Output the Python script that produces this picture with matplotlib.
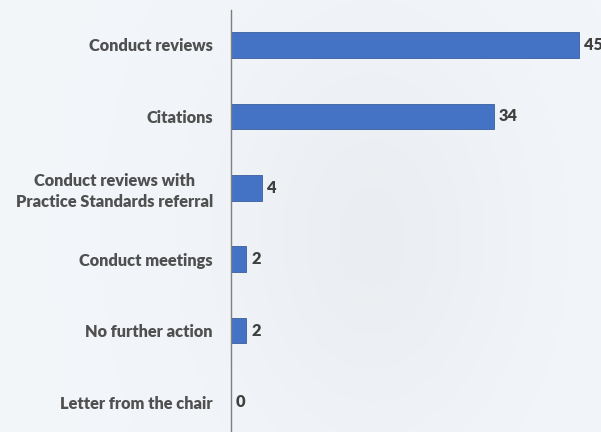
import numpy as np
import matplotlib.pyplot as plt

categories = ['Conduct reviews', 'Citations',
              'Conduct reviews with\nPractice Standards referral',
              'Conduct meetings', 'No further action', 'Letter from the chair']
counts = [45, 34, 4, 2, 2, 0]

plt.rcParams['font.family'] = ['Lato', 'DejaVu Sans']

fig = plt.figure(figsize=(6.01, 4.32), dpi=100)

# pale background standing in for the photo
bg = fig.add_axes([0, 0, 1, 1])
gx = np.linspace(0, 1, 200)
gy = np.linspace(0, 1, 150)
X, Y = np.meshgrid(gx, gy)
shade = 0.965 - 0.03 * np.exp(-((X - 0.62) ** 2 / 0.06 + (Y - 0.55) ** 2 / 0.25))
rgb = np.dstack([shade - 0.015, shade, shade + 0.015])
bg.imshow(np.clip(rgb, 0, 1), extent=[0, 1, 0, 1], aspect='auto')
bg.axis('off')

ax = fig.add_axes([231 / 601, 0, 1 - 231 / 601, 422 / 432])
ax.patch.set_alpha(0)
y = np.arange(len(categories))
bars = ax.barh(y, counts, height=0.36, color='#4472C4', edgecolor='#3a5f9e', linewidth=0.6)
ax.set_xlim(0, 47.86)
ax.set_ylim(5.42, -0.49)

ax.set_yticks(y)
ax.set_yticklabels(categories, fontsize=11.8, fontweight='heavy', color='#505050',
                   ha='right', multialignment='center', linespacing=1.35)
ax.tick_params(axis='y', length=0, pad=13)
ax.set_xticks([])
for s in ['top', 'right', 'bottom']:
    ax.spines[s].set_visible(False)
ax.spines['left'].set_color('#7f7f7f')
ax.spines['left'].set_linewidth(1.0)

for b, v in zip(bars, counts):
    ax.text(v + 0.6, b.get_y() + b.get_height() / 2, str(v), va='center', ha='left',
            fontsize=11.8, fontweight='heavy', color='#404040', clip_on=False)

fig.savefig('out.png', dpi=100)
